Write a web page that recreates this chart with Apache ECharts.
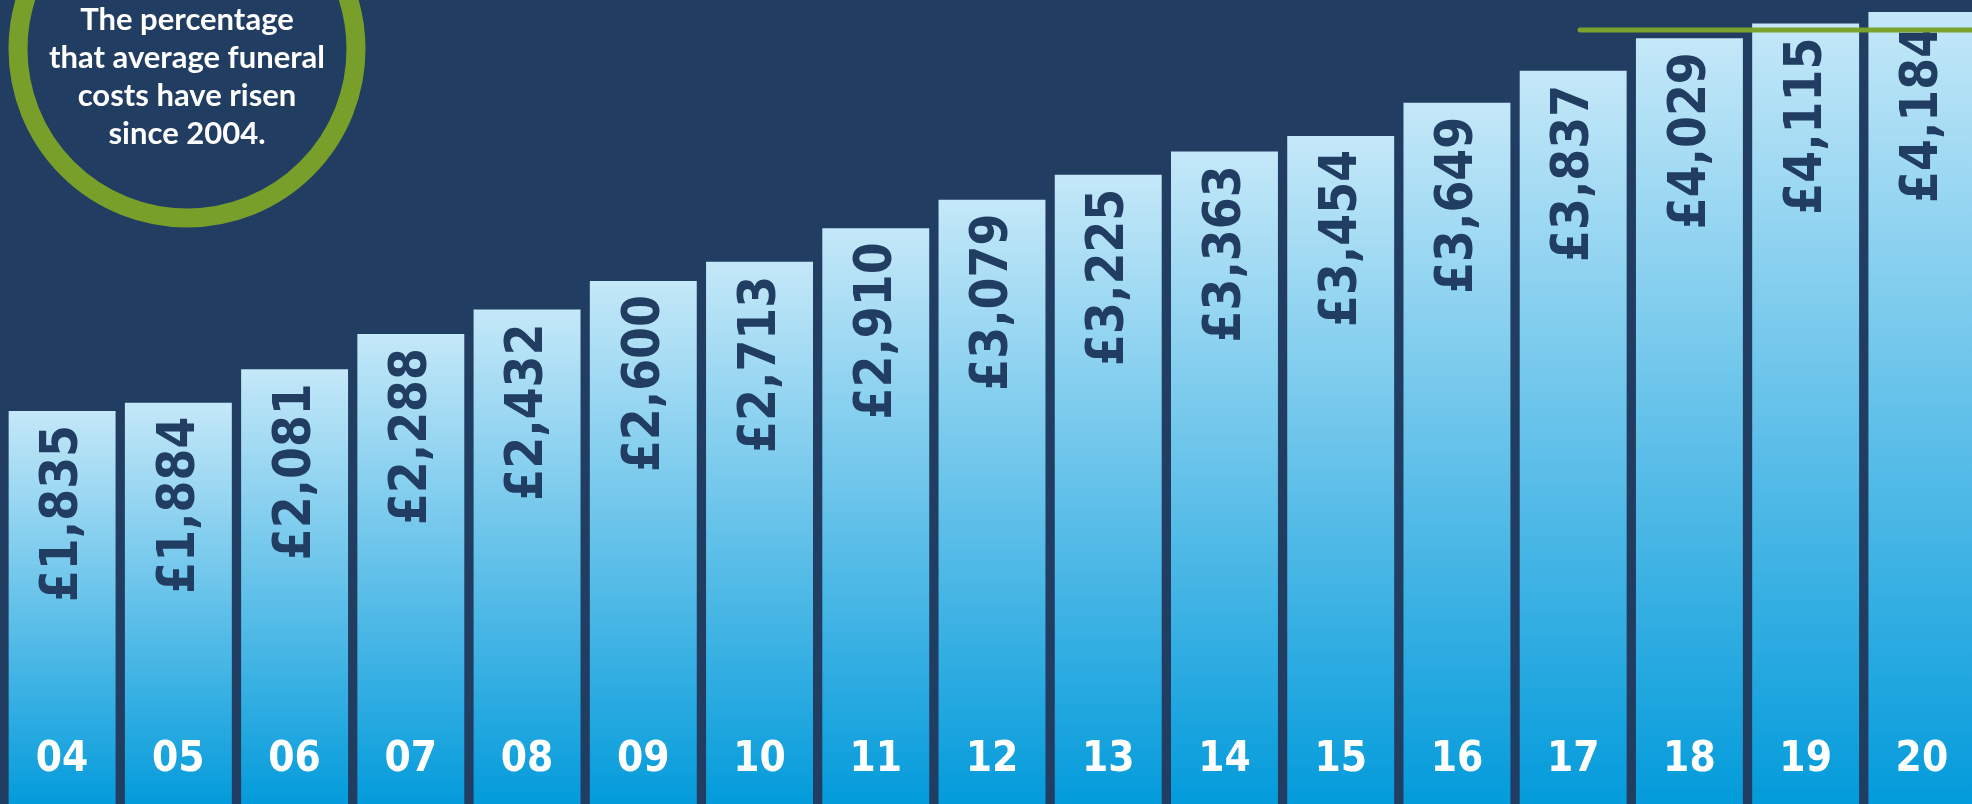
<!DOCTYPE html>
<html>
<head>
<meta charset="utf-8">
<script src="https://cdn.jsdelivr.net/npm/echarts@6.0.0/dist/echarts.min.js"></script>
<style>
  html, body { margin: 0; padding: 0; background: #213d62; overflow: hidden; }
  /* last bar is cut by the right edge in the original, so the canvas runs past the window */
  #funeral { width: 1990px; height: 804px; }
</style>
</head>
<body>
<div id="funeral"></div>
<script>
// average funeral cost per year (2004 - 2020)
const years = ['04', '05', '06', '07', '08', '09', '10', '11', '12', '13', '14', '15', '16', '17', '18', '19', '20'];
const costs = [1835, 1884, 2081, 2288, 2432, 2600, 2713, 2910, 3079, 3225, 3363, 3454, 3649, 3837, 4029, 4115, 4184];
const captionLines = ['The percentage', 'that average funeral', 'costs have risen', 'since 2004.'];

// the bars in the original start below zero, so the axis does too
const axisMin = -478;
const axisMax = 4254;

const navy = '#213d62';

let chart = echarts.init(document.getElementById('funeral'));

function renderBar(params, api) {
  let idx = api.value(0);
  let val = api.value(1);
  let top = api.coord([idx, val]);
  let base = api.coord([idx, axisMin]);
  let w = api.size([1, 0])[0] * 0.92;
  return {
    type: 'group',
    children: [
      {
        type: 'rect',
        shape: { x: top[0] - w / 2, y: top[1], width: w, height: base[1] - top[1] },
        style: {
          fill: new echarts.graphic.LinearGradient(0, 0, 0, 1, [
            { offset: 0, color: '#c4e8f8' },
            { offset: 1, color: '#039bdb' }
          ])
        }
      },
      {
        type: 'text',
        x: top[0] + 2,
        y: top[1] + 14,
        rotation: Math.PI / 2,
        style: {
          text: '£' + val.toLocaleString('en-GB'),
          fill: navy,
          font: 'bold 51px "DejaVu Sans Condensed", "DejaVu Sans"',
          align: 'right',
          verticalAlign: 'middle'
        }
      }
    ]
  };
}

let option = {
  backgroundColor: navy,
  animation: false,
  grid: {
    left: 4,
    width: 1976,
    top: 0,
    bottom: 0
  },
  xAxis: {
    type: 'category',
    data: years,
    z: 10,
    axisLine: { show: false },
    axisTick: { show: false },
    axisLabel: {
      inside: true,
      margin: 23,
      color: '#ffffff',
      fontFamily: '"DejaVu Sans Condensed", "DejaVu Sans"',
      fontWeight: 'bold',
      fontSize: 42,
      lineHeight: 42
    }
  },
  yAxis: {
    type: 'value',
    min: axisMin,
    max: axisMax,
    show: false,
    splitLine: { show: false }
  },
  series: [
    {
      type: 'custom',
      renderItem: renderBar,
      encode: { x: 0, y: 1 },
      data: costs.map((c, i) => [i, c])
    }
  ],
  graphic: [
    {
      type: 'circle',
      shape: { cx: 187, cy: 49, r: 169 },
      style: { fill: 'none', stroke: '#789f2a', lineWidth: 19 }
    },
    {
      type: 'text',
      x: 187,
      y: 1,
      style: {
        text: captionLines.join('\n'),
        fill: '#ffffff',
        font: 'bold 31px Lato',
        align: 'center',
        verticalAlign: 'top',
        lineHeight: 38
      }
    },
    {
      type: 'line',
      z: 100,
      shape: { x1: 1580, y1: 30, x2: 1990, y2: 30 },
      style: { stroke: '#7aa22c', lineWidth: 5, lineCap: 'round' }
    }
  ]
};

chart.setOption(option);
</script>
</body>
</html>
